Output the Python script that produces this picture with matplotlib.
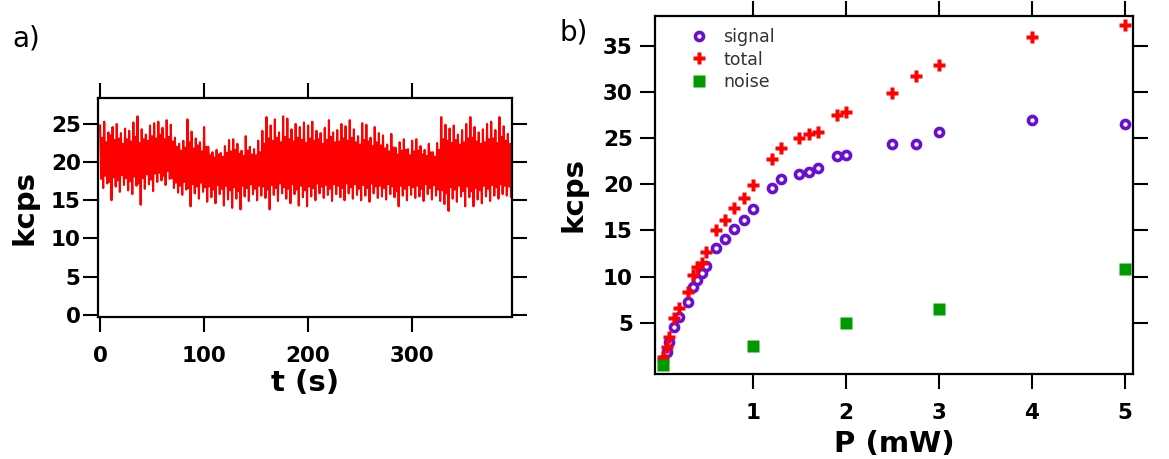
import numpy as np
import matplotlib
matplotlib.use("Agg")
import matplotlib.pyplot as plt

# ---------------- data: panel a (time trace values)
# one cycle every 4 s: upper excursion, core low, core high, lower excursion
t_hi = list(range(0, 400, 4))
t_core_lo = list(range(1, 401, 4))
t_core_hi = list(range(2, 402, 4))
t_lo = list(range(3, 403, 4))
trace_hi = [24.8, 25.3, 23.9, 24.6, 25.0, 23.8, 24.4,
            24.1, 25.2, 26.0, 24.3, 23.6, 24.8, 25.1,
            25.3, 24.5, 25.5, 24.9, 23.2,
            22.4, 22.8, 25.6, 24.0, 23.1, 22.6, 24.6,
            22.0, 21.3, 21.6, 21.2, 22.1, 22.9,
            23.0, 22.4, 21.5, 23.4, 22.0, 21.7, 22.8,
            24.1, 25.9, 24.8, 25.6, 23.9, 26.0,
            25.7, 24.3, 25.0, 24.6, 25.2, 24.8,
            25.3, 24.1, 23.8, 24.5, 25.5, 23.9, 24.2, 25.0, 24.7,
            25.5, 24.3, 23.4, 25.1, 24.9, 23.2, 24.6, 23.8,
            23.5, 22.3, 23.7, 21.9, 22.6, 23.0, 21.7, 22.8,
            23.0, 22.1, 21.6, 22.4, 21.3, 22.5,
            25.9, 24.9, 24.4, 24.8, 23.6, 24.2, 25.0,
            25.9, 24.6, 23.9, 24.3, 25.0, 25.3, 24.2, 25.9, 24.7, 23.7, 23.0]
trace_core_lo = [17.8, 18.2, 17.4, 18.0, 17.6, 18.3, 17.9,
                 17.5, 18.1, 17.2, 17.9, 18.4, 17.7, 18.5,
                 18.6, 18.2, 18.8, 17.9, 17.3,
                 16.9, 17.4, 16.6, 17.1, 16.8, 17.3, 16.7,
                 16.8, 16.4, 17.0, 16.5, 16.9, 16.3,
                 16.7, 16.2, 16.9, 16.6, 17.1, 16.5, 16.9,
                 16.8, 16.4, 17.0, 16.6, 17.2, 16.7,
                 16.5, 17.1, 16.4, 16.9, 16.3, 16.8,
                 16.6, 17.2, 16.8, 17.0, 16.5, 17.1, 16.9, 16.6, 17.2,
                 16.7, 17.1, 16.5, 17.0, 16.6, 17.2, 16.8, 16.9,
                 16.6, 17.1, 16.8, 16.2, 16.9, 16.5, 17.0, 16.7,
                 16.9, 16.5, 17.1, 16.6, 17.0, 16.4,
                 16.3, 15.9, 16.7, 16.4, 16.9, 16.2, 16.8,
                 16.2, 16.6, 16.3, 16.9, 16.5, 17.0, 16.7, 17.1, 16.9, 16.8, 17.0]
trace_core_hi = [23.2, 22.6, 23.5, 22.9, 23.1, 22.4, 23.0,
                 22.7, 23.3, 22.5, 23.0, 22.8, 23.4, 23.1,
                 23.6, 23.0, 23.3, 22.7, 22.0,
                 21.5, 21.9, 22.6, 21.8, 22.2, 21.4, 22.0,
                 20.9, 20.6, 21.0, 20.7, 21.2, 21.4,
                 21.6, 21.1, 20.8, 21.5, 21.0, 20.9, 21.3,
                 22.4, 23.1, 22.8, 23.2, 22.6, 23.3,
                 23.0, 22.7, 23.2, 22.9, 22.5, 23.1,
                 22.8, 23.0, 22.4, 22.9, 23.3, 22.6, 22.7, 23.1, 22.8,
                 23.2, 22.6, 22.3, 22.9, 22.7, 22.1, 22.6, 22.2,
                 21.8, 21.4, 21.9, 21.0, 21.5, 21.6, 20.9, 21.4,
                 21.5, 21.0, 20.8, 21.3, 20.7, 21.6,
                 23.0, 22.8, 22.5, 22.9, 22.3, 22.6, 23.1,
                 23.2, 22.7, 22.4, 22.6, 23.0, 23.1, 22.5, 23.3, 22.8, 22.4, 22.0]
trace_lo = [16.6, 17.2, 15.0, 16.8, 16.1, 17.0, 16.3,
            15.8, 16.9, 14.4, 16.5, 17.1, 16.2, 17.4,
            17.6, 17.0, 17.8, 16.6, 16.0,
            15.7, 16.4, 14.2, 15.9, 15.2, 16.1, 14.8,
            15.4, 14.6, 15.8, 14.3, 15.1, 14.0,
            15.2, 13.8, 15.5, 14.9, 15.8, 15.0, 15.6,
            15.3, 13.8, 15.7, 14.9, 15.9, 15.2,
            14.6, 15.8, 14.3, 15.4, 14.2, 15.5,
            15.0, 15.9, 15.3, 15.7, 14.9, 15.8, 15.4, 15.0, 15.9,
            15.2, 15.7, 15.0, 15.6, 14.8, 15.9, 15.3, 15.5,
            15.1, 15.8, 15.4, 14.2, 15.6, 15.0, 15.7, 15.3,
            15.5, 14.9, 15.8, 15.1, 15.6, 14.9,
            14.5, 13.6, 15.2, 14.8, 15.5, 14.2, 15.4,
            14.2, 15.1, 14.6, 15.5, 14.9, 15.6, 15.2, 15.8, 15.6, 15.4, 15.6]

# ---------------- data: panel b (power dependence)
P = [0.03, 0.07, 0.10, 0.15, 0.20, 0.30, 0.35, 0.40, 0.45, 0.50, 0.60, 0.70, 0.80,
     0.90, 1.00, 1.20, 1.30, 1.50, 1.60, 1.70, 1.90, 2.00, 2.50, 2.75, 3.00, 4.00, 5.00]
signal = [1.0, 1.8, 2.9, 4.6, 5.6, 7.3, 8.9, 9.6, 10.4, 11.1, 13.1, 14.1, 15.2,
          16.1, 17.3, 19.6, 20.6, 21.1, 21.3, 21.7, 23.0, 23.2, 24.3, 24.4, 25.7, 26.9, 26.5]
total = [1.3, 2.4, 3.5, 5.5, 6.6, 8.3, 10.2, 11.0, 11.5, 12.7, 15.0, 16.1, 17.4,
         18.5, 19.9, 22.7, 23.9, 25.0, 25.4, 25.7, 27.5, 27.8, 29.9, 31.7, 32.9, 35.9, 37.2]
P_noise = [0.03, 1.0, 2.0, 3.0, 5.0]
noise = [0.4, 2.5, 5.0, 6.5, 10.8]

xticks_a = [0, 100, 200, 300]
yticks_a = [0, 5, 10, 15, 20, 25]
xticks_b = [1, 2, 3, 4, 5]
yticks_b = [5, 10, 15, 20, 25, 30, 35]

# ---------------- figure
W, H = 1169, 459
fig = plt.figure(figsize=(W / 100, H / 100), dpi=100)
plt.rcParams['font.family'] = ['DejaVu Sans']

def box(l, t, r, b):
    return [l / W, 1 - b / H, (r - l) / W, (b - t) / H]

ax1 = fig.add_axes(box(98, 98, 512, 317))
ax2 = fig.add_axes(box(655, 16, 1133, 374))

# interleave the four readings of each cycle into a single trace
t_all, v_all = [], []
for a, b, c, d, va, vb, vc, vd in zip(t_hi, t_core_lo, t_core_hi, t_lo,
                                      trace_hi, trace_core_lo, trace_core_hi, trace_lo):
    t_all += [a, b, c, d]
    v_all += [va, vb, vc, vd]
ax1.plot(t_all, v_all, color='#ff0000', lw=1.5)
ax1.set_xlim(-2, 396)
ax1.set_ylim(-0.3, 28.4)
ax1.set_xticks(xticks_a)
ax1.set_yticks(yticks_a)

ax2.plot(P, signal, ls='none', marker='o', ms=5.8, mfc='white', mec='#6a0fd2',
         mew=2.6, label='signal')
ax2.plot(P, total, ls='none', marker='P', ms=9, mfc='#ff0000', mec='none',
         label='total')
ax2.plot(P_noise, noise, ls='none', marker='s', ms=9, mfc='#009a00', mec='none',
         label='noise')
ax2.set_xlim(-0.054, 5.09)
ax2.set_ylim(-0.54, 38.2)
ax2.set_xticks(xticks_b)
ax2.set_yticks(yticks_b)

for ax, ypad in ((ax1, 1.5), (ax2, 5)):
    for s in ax.spines.values():
        s.set_linewidth(1.6)
    ax.tick_params(axis='both', which='both', direction='out', length=11,
                   width=1.5, top=True, right=True, labeltop=False, labelright=False)
    ax.tick_params(axis='y', pad=ypad)
    ax.tick_params(axis='x', pad=10)
    for lab in ax.get_xticklabels() + ax.get_yticklabels():
        lab.set_fontsize(15.5)
        lab.set_fontweight('bold')

ax1.set_xlabel('t (s)', fontsize=21, fontweight='bold', labelpad=2)
ax1.set_ylabel('kcps', fontsize=21, fontweight='bold', labelpad=9)
ax2.set_xlabel('P (mW)', fontsize=21, fontweight='bold', labelpad=5)
ax2.set_ylabel('kcps', fontsize=21, fontweight='bold', labelpad=11)

leg = ax2.legend(loc='upper left', bbox_to_anchor=(0.052, 0.995), frameon=False,
                 fontsize=12.5, handlelength=1.0, handletextpad=0.9,
                 labelspacing=0.25, borderaxespad=0.2, numpoints=1)
for txt in leg.get_texts():
    txt.set_color('#333333')

fig.text(26 / W, 1 - 39 / H, 'a)', fontsize=20, ha='center', va='center')
fig.text(574 / W, 1 - 33 / H, 'b)', fontsize=20, ha='center', va='center')

fig.savefig('out.png', dpi=100)
